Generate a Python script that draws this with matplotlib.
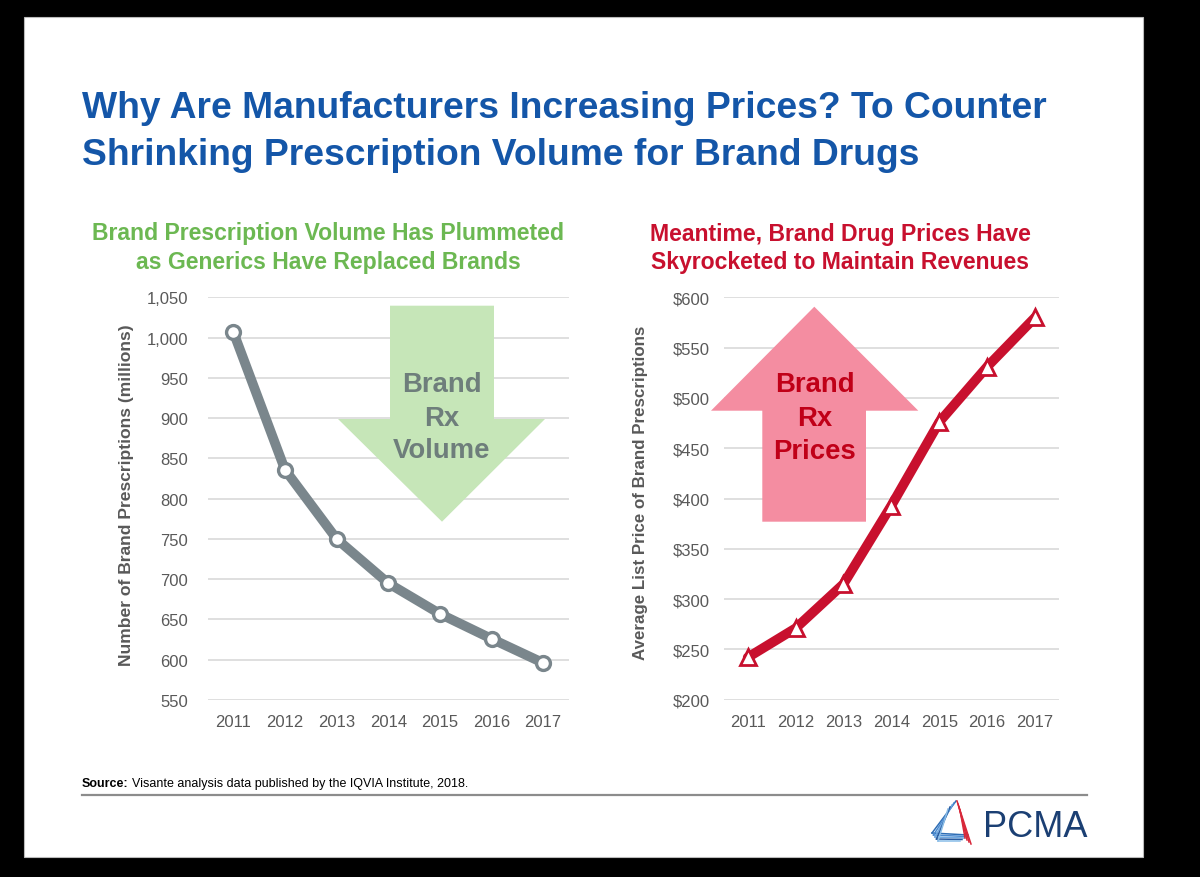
import matplotlib.pyplot as plt
import matplotlib.patches as mpatches
import numpy as np
from matplotlib.ticker import FuncFormatter

plt.rcParams["font.family"] = ["Liberation Sans", "DejaVu Sans"]

# Data
years = ["2011", "2012", "2013", "2014", "2015", "2016", "2017"]
brand_volume = [1007, 836, 750, 695, 657, 626, 596]  # millions of prescriptions
brand_price = [242, 271, 315, 393, 476, 531, 580]  # average list price, $
volume_ticks = np.arange(550, 1051, 50)
price_ticks = np.arange(200, 601, 50)

W, H = 1200, 878
fig = plt.figure(figsize=(W / 100, H / 100), dpi=100, facecolor="black")


def fx(x):
    return x / W


def fy(y):
    return 1 - y / H


# White slide
fig.patches.append(
    mpatches.Rectangle((fx(24), fy(858)), fx(1143) - fx(24), fy(18) - fy(858),
                       transform=fig.transFigure, facecolor="white",
                       edgecolor="#bbbbbb", linewidth=0.8, zorder=-1)
)

# Title
title_blue = "#1456A8"
fig.text(fx(82), fy(118), "Why Are Manufacturers Increasing Prices? To Counter",
         color=title_blue, fontsize=26.8, fontweight="bold", va="baseline")
fig.text(fx(82), fy(165), "Shrinking Prescription Volume for Brand Drugs",
         color=title_blue, fontsize=26.8, fontweight="bold", va="baseline")

# Sub-headings
green = "#6CB852"
red = "#C8102E"
fig.text(fx(328), fy(240), "Brand Prescription Volume Has Plummeted",
         color=green, fontsize=16.6, fontweight="bold", ha="center", va="baseline")
fig.text(fx(328), fy(268.5), "as Generics Have Replaced Brands",
         color=green, fontsize=16.6, fontweight="bold", ha="center", va="baseline")
fig.text(fx(840), fy(241), "Meantime, Brand Drug Prices Have",
         color=red, fontsize=16.6, fontweight="bold", ha="center", va="baseline")
fig.text(fx(840), fy(269.5), "Skyrocketed to Maintain Revenues",
         color=red, fontsize=16.6, fontweight="bold", ha="center", va="baseline")

tick_grey = "#595959"
grid_grey = "#D9D9D9"


def style_axes(ax):
    ax.set_facecolor("none")
    ax.set_zorder(1)
    for s in ax.spines.values():
        s.set_visible(False)
    ax.tick_params(length=0, labelcolor=tick_grey)
    ax.tick_params(axis="y", labelsize=12)
    ax.tick_params(axis="x", labelsize=12, pad=10)
    ax.grid(axis="y", color=grid_grey, linewidth=1.2)
    ax.set_axisbelow(True)
    ax.set_xlim(-0.5, len(years) - 0.5)
    ax.set_xticks(range(len(years)))
    ax.set_xticklabels(years)


def fig_poly(ax, pts, color):
    poly = mpatches.Polygon([(fx(a), fy(b)) for a, b in pts], closed=True,
                            transform=fig.transFigure, facecolor=color,
                            edgecolor="none", zorder=2, clip_on=False)
    ax.add_patch(poly)


# Left chart: volume
ax1 = fig.add_axes([fx(207.5), fy(701), fx(569) - fx(207.5), fy(298.3) - fy(701)])
style_axes(ax1)
ax1.set_ylim(550, 1050)
ax1.set_yticks(volume_ticks)
ax1.yaxis.set_major_formatter(FuncFormatter(lambda v, p: f"{int(v):,}"))
ax1.tick_params(axis="y", pad=14)
ax1.plot(range(len(years)), brand_volume, color="#7A868C", linewidth=7,
         marker="o", markersize=10, markerfacecolor="white",
         markeredgecolor="#7A868C", markeredgewidth=2.4, zorder=3,
         solid_capstyle="round", solid_joinstyle="round")

# Right chart: price
ax2 = fig.add_axes([fx(723.75), fy(700.7), fx(1059) - fx(723.75), fy(298.3) - fy(700.7)])
style_axes(ax2)
ax2.set_ylim(200, 600)
ax2.set_yticks(price_ticks)
ax2.yaxis.set_major_formatter(FuncFormatter(lambda v, p: f"${int(v)}"))
ax2.tick_params(axis="y", pad=10)
ax2.plot(range(len(years)), brand_price, color="#C8102E", linewidth=7,
         marker="^", markersize=12, markerfacecolor="white",
         markeredgecolor="#C8102E", markeredgewidth=2.0, zorder=3,
         solid_capstyle="round", solid_joinstyle="round")

# Axis titles
fig.text(fx(127), fy(495), "Number of Brand Prescriptions (millions)",
         color=tick_grey, fontsize=12.6, fontweight="bold", rotation=90,
         ha="center", va="center")
fig.text(fx(641), fy(493), "Average List Price of Brand Prescriptions",
         color=tick_grey, fontsize=12.2, fontweight="bold", rotation=90,
         ha="center", va="center")

# Decorative arrows
down_arrow = [(390, 306.7), (494, 306.7), (494, 420), (545, 420), (442, 522.7),
              (338, 420), (390, 420)]
up_arrow = [(814.3, 307.7), (918.3, 411.7), (866, 411.7), (866, 522.7),
            (762.3, 522.7), (762.3, 411.7), (711, 411.7)]
fig_poly(ax1, down_arrow, "#C6E6B8")
fig_poly(ax2, up_arrow, "#F48DA1")

for txt, yb in zip(["Brand", "Rx", "Volume"], [391.7, 426, 458.5]):
    ax1.text(fx(442), fy(yb), txt, transform=fig.transFigure, color="#6E7E7B",
             fontsize=19.8, fontweight="bold", ha="center", va="baseline", zorder=4)
for txt, yb in zip(["Brand", "Rx", "Prices"], [391.7, 426, 459]):
    ax2.text(fx(814.5), fy(yb), txt, transform=fig.transFigure, color="#C00018",
             fontsize=19.8, fontweight="bold", ha="center", va="baseline", zorder=4)

# Source line and rule
src = fig.text(fx(82), fy(787), "Source:", color="black", fontsize=9,
               fontweight="bold", va="baseline")
fig.canvas.draw()
bb = src.get_window_extent()
fig.text(bb.x1 / W + fx(3), fy(787), "Visante analysis data published by the IQVIA Institute, 2018.",
         color="black", fontsize=9, va="baseline")
fig.add_artist(plt.Line2D([fx(82), fx(1087)], [fy(796), fy(796)],
                          transform=fig.transFigure, color="#8C8C8C", linewidth=1.6))

# PCMA logo
fig.text(fx(983), fy(837), "PCMA", color="#1B3F73", fontsize=26, va="baseline")
blue_lines = ["#2E6DB4", "#4A8AD0", "#6FA8E0", "#2A5CA0", "#89BDE8"]
for i, c in enumerate(blue_lines):
    fig.add_artist(plt.Line2D([fx(956 - i * 2), fx(932 + i * 1.5)],
                              [fy(802 + i * 2), fy(834 + i * 2)],
                              transform=fig.transFigure, color=c, linewidth=1.1))
    fig.add_artist(plt.Line2D([fx(932 + i * 1.5), fx(968 - i * 2)],
                              [fy(834 + i * 2), fy(836 + i * 1.5)],
                              transform=fig.transFigure, color=c, linewidth=1.1))
for i in range(4):
    fig.add_artist(plt.Line2D([fx(957 + i), fx(971 - i * 2)],
                              [fy(802 + i * 3), fy(845 - i * 2)],
                              transform=fig.transFigure, color="#D8283A", linewidth=1.1))

fig.savefig("out.png", dpi=100, facecolor=fig.get_facecolor())
